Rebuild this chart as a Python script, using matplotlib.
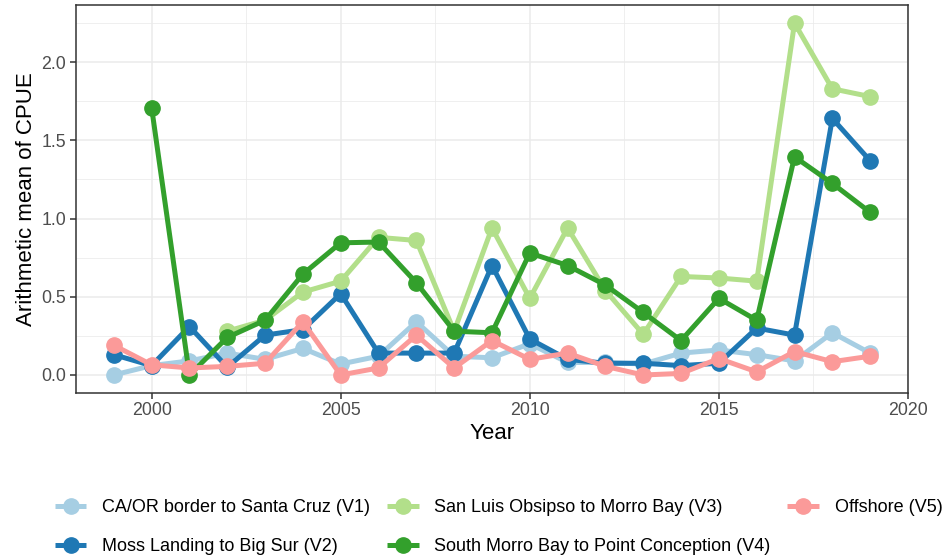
import numpy as np
import matplotlib
matplotlib.use("Agg")
import matplotlib.pyplot as plt
from matplotlib.ticker import MultipleLocator

plt.rcParams['font.family'] = ['Liberation Sans', 'DejaVu Sans']

years = list(range(1999, 2020))

# mean CPUE per region; None where a region has no sampling that year
v1 = [0.00, 0.06, 0.09, 0.14, 0.10, 0.17, 0.07, 0.12, 0.34, 0.12, 0.11, 0.20,
      0.08, 0.08, 0.07, 0.14, 0.16, 0.13, 0.09, 0.27, 0.14]
v2 = [0.13, 0.06, 0.31, 0.05, 0.255, 0.29, 0.52, 0.14, 0.14, 0.14, 0.70, 0.23,
      0.10, 0.075, 0.075, 0.06, 0.075, 0.30, 0.255, 1.64, 1.37]
v3 = [None, None, None, 0.28, 0.35, 0.53, 0.60, 0.88, 0.86, 0.28, 0.94, 0.49,
      0.94, 0.54, 0.26, 0.63, 0.62, 0.60, 2.25, 1.83, 1.78]
v4 = [None, 1.71, 0.00, 0.24, 0.35, 0.645, 0.845, 0.85, 0.59, 0.28, 0.27, 0.78,
      0.70, 0.575, 0.40, 0.22, 0.49, 0.35, 1.395, 1.225, 1.04]
v5 = [0.19, 0.065, 0.045, 0.055, 0.075, 0.34, 0.00, 0.045, 0.255, 0.045, 0.22, 0.10,
      0.14, 0.055, 0.00, 0.01, 0.105, 0.02, 0.15, 0.085, 0.12]

labels = ["CA/OR border to Santa Cruz (V1)", "Moss Landing to Big Sur (V2)",
          "San Luis Obsipso to Morro Bay (V3)", "South Morro Bay to Point Conception (V4)",
          "Offshore (V5)"]
colors = ["#A6CEE3", "#1F78B4", "#B2DF8A", "#33A02C", "#FB9A99"]

fig = plt.figure(figsize=(9.46, 5.59), dpi=100)
ax = fig.add_axes([0.0803, 0.2977, 0.8795, 0.6925])

for vals, lab, col in zip([v1, v2, v3, v4, v5], labels, colors):
    x = [yr for yr, v in zip(years, vals) if v is not None]
    y = [v for v in vals if v is not None]
    ax.plot(x, y, color=col, lw=3.6, marker='o', ms=11, label=lab,
            solid_capstyle='butt')

ax.set_xlim(1998, 2020)
ax.set_ylim(-0.1125, 2.3625)
ax.xaxis.set_major_locator(MultipleLocator(5))
ax.xaxis.set_minor_locator(MultipleLocator(2.5))
ax.yaxis.set_major_locator(MultipleLocator(0.5))
ax.yaxis.set_minor_locator(MultipleLocator(0.25))
ax.yaxis.set_major_formatter(lambda v, p: f"{v:.1f}")

ax.grid(which='major', color='#EBEBEB', lw=1.1)
ax.grid(which='minor', color='#EBEBEB', lw=0.55)
ax.set_axisbelow(True)
for s in ax.spines.values():
    s.set_color('#333333')
    s.set_linewidth(1.1)
ax.tick_params(which='major', length=4, width=1.1, color='#333333',
               labelcolor='#4D4D4D', labelsize=12.8, pad=3)
ax.tick_params(which='minor', length=0)

ax.set_xlabel("Year", fontsize=16, labelpad=3)
ax.set_ylabel("Arithmetic mean of CPUE", fontsize=16, labelpad=3)

fig.legend(loc='lower center', bbox_to_anchor=(0.527, -0.004), ncol=3,
           frameon=False, fontsize=13, handlelength=1.77, handletextpad=0.88,
           columnspacing=0.9, labelspacing=1.2, borderaxespad=0.0,
           borderpad=0.35)

fig.savefig("out.png", dpi=100)
